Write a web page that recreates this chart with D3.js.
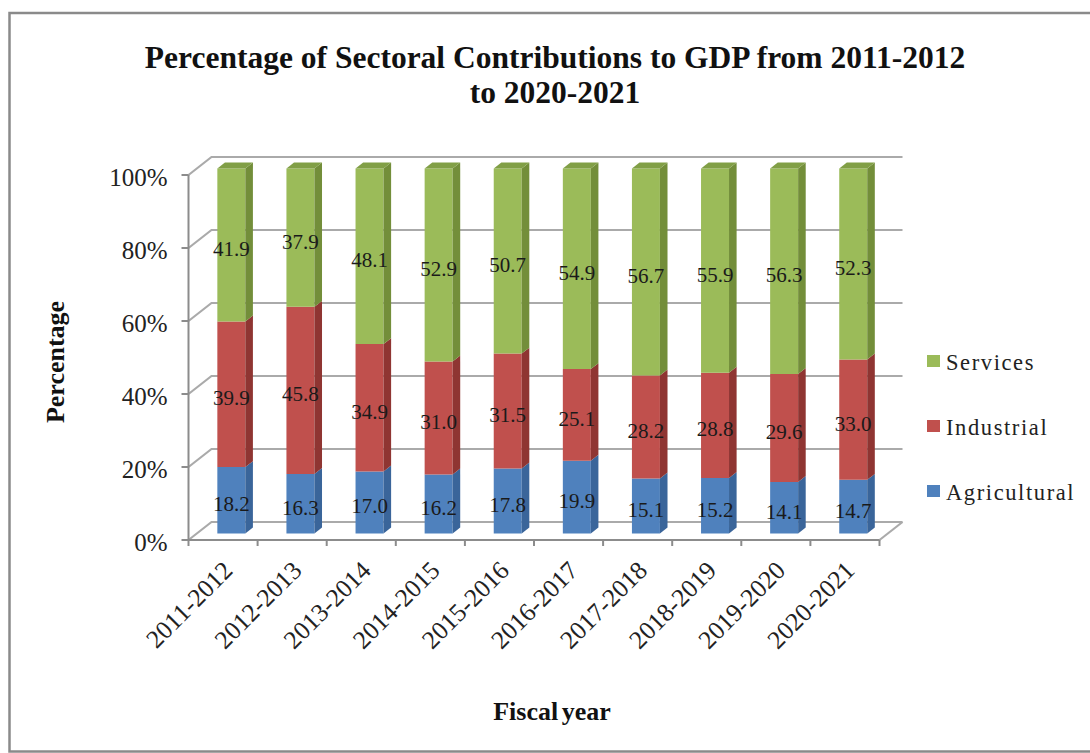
<!DOCTYPE html>
<html><head><meta charset="utf-8">
<script src="https://cdn.jsdelivr.net/npm/d3@7/dist/d3.min.js"></script>
<style>
html,body{margin:0;padding:0;background:#fff;}
text{font-family:"Liberation Serif","Times New Roman",serif;fill:#111;}
</style></head>
<body><svg id="chart" width="1090" height="753"></svg>
<script>
const categories = ["2011-2012","2012-2013","2013-2014","2014-2015","2015-2016","2016-2017","2017-2018","2018-2019","2019-2020","2020-2021"];
const agricultural = [18.2,16.3,17.0,16.2,17.8,19.9,15.1,15.2,14.1,14.7];
const industrial   = [39.9,45.8,34.9,31.0,31.5,25.1,28.2,28.8,29.6,33.0];
const services     = [41.9,37.9,48.1,52.9,50.7,54.9,56.7,55.9,56.3,52.3];
const seriesNames  = ["Agricultural","Industrial","Services"];
const yTickValues  = [0,0.2,0.4,0.6,0.8,1.0];
const titleLines   = ["Percentage of Sectoral Contributions to GDP from 2011-2012","to 2020-2021"];

const svg = d3.select("#chart");
const rows = categories.map((c,i)=>({cat:c, Agricultural:agricultural[i], Industrial:industrial[i], Services:services[i]}));
const stacked = d3.stack().keys(seriesNames).offset(d3.stackOffsetExpand)(rows);

const x = d3.scaleBand().domain(categories).range([188.5, 879.5]);
const y = d3.scaleLinear().domain([0,1]).range([540,175]);
const DX = 23, DY = 18;
const P = (px,py,t)=>[px + t*DX, py - t*DY];
const tFront = 0.36, tBack = 0.69;
const barW = x.bandwidth()*0.405;

const colors = {
  Agricultural:{front:"#4F81BD", side:"#3A659A", top:"#4474AD"},
  Industrial:{front:"#C0504D", side:"#8F3532", top:"#A8423F"},
  Services:{front:"#9BBB59", side:"#738E3A", top:"#819F46"}
};

// outer border
svg.append("rect").attr("x",9.5).attr("y",13).attr("width",1100).attr("height",738.5)
  .attr("fill","none").attr("stroke","#8a8a8a").attr("stroke-width",2.5);

// title
svg.append("g").selectAll("text").data(titleLines).join("text")
  .attr("x",555).attr("y",(d,i)=>68+i*35).attr("text-anchor","middle")
  .style("font-weight","bold").style("font-size","31.5px").text(d=>d);

// gridlines (back wall + left wall connectors)
const x0 = x.range()[0], x1 = x.range()[1];
const grid = svg.append("g");
yTickValues.forEach(v=>{
  const a=[x0,y(v)], b=P(x0,y(v),1), c=P(x1,y(v),1);
  grid.append("path").attr("d",`M${a}L${b}L${c}`).attr("fill","none")
    .attr("stroke","#aaaaaa").attr("stroke-width",2.2);
});
// floor
const fb=[x1,y(0)], fc=P(x1,y(0),1);
grid.append("path").attr("d",`M${fb}L${fc}`).attr("fill","none").attr("stroke","#aaaaaa").attr("stroke-width",2.2);

// axes lines
svg.append("line").attr("x1",x0).attr("x2",x0).attr("y1",y(0)).attr("y2",y(1)).attr("stroke","#8c8c8c").attr("stroke-width",2);
svg.append("line").attr("x1",x0).attr("x2",x1).attr("y1",y(0)).attr("y2",y(0)).attr("stroke","#8c8c8c").attr("stroke-width",2);
// y ticks
svg.append("g").selectAll("line").data(yTickValues).join("line")
  .attr("x1",x0-7).attr("x2",x0).attr("y1",d=>y(d)).attr("y2",d=>y(d)).attr("stroke","#8c8c8c").attr("stroke-width",2);
svg.append("g").selectAll("text").data(yTickValues).join("text")
  .attr("x",x0-21).attr("y",d=>y(d)+2).attr("text-anchor","end").attr("dominant-baseline","central")
  .style("font-size","25px").style("fill","#222").text(d=>d3.format(".0%")(d));
// x ticks
const xTickPos = categories.map(c=>x(c)).concat([x1]);
svg.append("g").selectAll("line").data(xTickPos).join("line")
  .attr("x1",d=>d).attr("x2",d=>d).attr("y1",y(0)).attr("y2",y(0)+6).attr("stroke","#8c8c8c").attr("stroke-width",2);
svg.append("g").selectAll("text").data(categories).join("text")
  .attr("transform",d=>`translate(${x(d)+x.bandwidth()/2+11},572) rotate(-45)`)
  .attr("text-anchor","end").style("font-size","25.5px").style("fill","#222").text(d=>d);

// bars
const bars = svg.append("g");
categories.forEach((c,i)=>{
  const cx = x(c)+x.bandwidth()/2;
  const l = cx-barW/2, r = cx+barW/2;
  stacked.forEach((s,si)=>{
    const key = s.key, y0v = s[i][0], y1v = s[i][1];
    const col = colors[key];
    const fl0=P(l,y(y0v),tFront), fr0=P(r,y(y0v),tFront), fr1=P(r,y(y1v),tFront), fl1=P(l,y(y1v),tFront);
    const br0=P(r,y(y0v),tBack), br1=P(r,y(y1v),tBack), bl1=P(l,y(y1v),tBack);
    bars.append("path").attr("d",`M${fl0}L${fr0}L${fr1}L${fl1}Z`).attr("fill",col.front);
    bars.append("path").attr("d",`M${fr0}L${br0}L${br1}L${fr1}Z`).attr("fill",col.side);
    if(si===stacked.length-1){
      bars.append("path").attr("d",`M${fl1}L${fr1}L${br1}L${bl1}Z`).attr("fill",col.top);
    }
  });
});

// data labels
const vals = {Agricultural:agricultural, Industrial:industrial, Services:services};
const labels = svg.append("g");
stacked.forEach(s=>{
  s.forEach((d,i)=>{
    const cx = x(categories[i])+x.bandwidth()/2;
    const p = P(cx,(y(d[0])+y(d[1]))/2,tFront);
    labels.append("text").attr("x",p[0]).attr("y",p[1]+4).attr("text-anchor","middle")
      .attr("dominant-baseline","central").style("font-size","21px").style("fill","#1a1a1a")
      .text(d3.format(".1f")(vals[s.key][i]));
  });
});

// legend
const legendOrder = ["Services","Industrial","Agricultural"];
const ly = d3.scalePoint().domain(legendOrder).range([361,491]);
const lg = svg.append("g");
lg.selectAll("rect").data(legendOrder).join("rect")
  .attr("x",927).attr("y",d=>ly(d)-6).attr("width",13).attr("height",12).attr("fill",d=>colors[d].front);
lg.selectAll("text").data(legendOrder).join("text")
  .attr("x",946).attr("y",d=>ly(d)+1).attr("dominant-baseline","central")
  .style("font-size","22.5px").style("letter-spacing","1.6px").style("fill","#222").text(d=>d);

// axis titles
svg.append("text").attr("transform","translate(55,362) rotate(-90)").attr("text-anchor","middle")
  .attr("dominant-baseline","central").style("font-weight","bold").style("font-size","26px").text("Percentage");
svg.append("text").attr("x",552).attr("y",720).attr("text-anchor","middle")
  .style("font-weight","bold").style("font-size","26px").style("word-spacing","-3px").text("Fiscal year");
</script></body></html>
